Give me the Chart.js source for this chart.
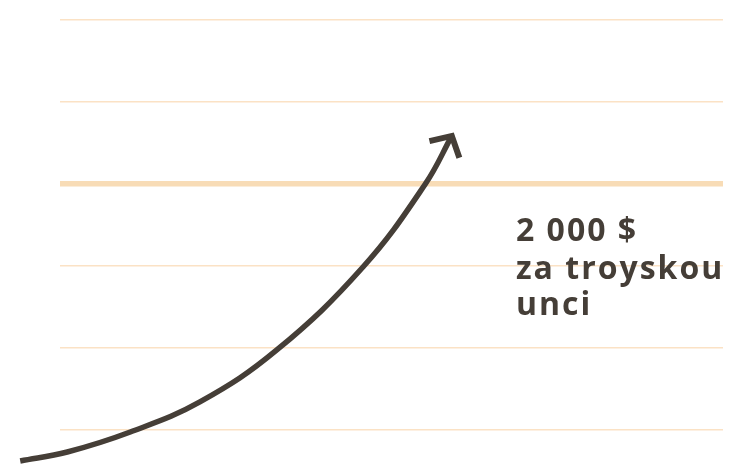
<!DOCTYPE html>
<html>
<head>
<meta charset="utf-8">
<script src="https://cdn.jsdelivr.net/npm/chart.js@4.4.0/dist/chart.umd.min.js"></script>
<style>
  html, body { margin: 0; padding: 0; background: #ffffff; }
  #wrap { width: 730px; height: 465px; position: relative; }
</style>
</head>
<body>
<div id="wrap"><canvas id="c" width="730" height="465"></canvas></div>
<script>
// ---- data ----
const curveX = [-6.0, 1.1, 10.6, 21.1, 32.7, 45.7, 55.1, 59.1];
const curveY = [311, 366, 488, 671, 988, 1494, 2000, 2293];
const gridTicks = [500, 1000, 1500, 2000, 2500, 3000];
const highlightValue = 2000;
const labelLines = ['2 000 $', 'za troyskou', 'unci'];

const INK = '#453e37';
const GRID = '#fbe2c5';
const GRID_HI = '#f8dcb6';

const arrowHead = {
  id: 'arrowHead',
  afterDatasetsDraw(chart) {
    const meta = chart.getDatasetMeta(0);
    const pts = meta.data;
    const last = pts[pts.length - 1];
    let dx = last.x - (last.cp1x ?? pts[pts.length - 2].x);
    let dy = last.y - (last.cp1y ?? pts[pts.length - 2].y);
    const len = Math.hypot(dx, dy) || 1;
    dx /= len; dy /= len;
    const back = Math.atan2(-dy, -dx);
    const half = 48 * Math.PI / 180;
    const arm = 23;
    const ctx = chart.ctx;
    ctx.save();
    ctx.strokeStyle = INK;
    ctx.lineWidth = 6;
    ctx.lineJoin = 'miter';
    ctx.lineCap = 'butt';
    ctx.beginPath();
    ctx.moveTo(last.x + arm * Math.cos(back + half), last.y + arm * Math.sin(back + half));
    ctx.lineTo(last.x, last.y);
    ctx.lineTo(last.x + arm * Math.cos(back - half), last.y + arm * Math.sin(back - half));
    ctx.stroke();
    ctx.restore();
  }
};

const priceLabel = {
  id: 'priceLabel',
  afterDraw(chart) {
    const ctx = chart.ctx;
    ctx.save();
    ctx.fillStyle = INK;
    ctx.font = '700 32px "Open Sans"';
    ctx.letterSpacing = '2px';
    ctx.textBaseline = 'alphabetic';
    ctx.textAlign = 'left';
    const baselines = [241, 279, 315];
    labelLines.forEach((t, i) => ctx.fillText(t, 516, baselines[i]));
    ctx.restore();
  }
};

new Chart(document.getElementById('c'), {
  type: 'line',
  data: {
    datasets: [{
      data: curveX.map((x, i) => ({ x, y: curveY[i] })),
      borderColor: INK,
      borderWidth: 5.5,
      borderCapStyle: 'butt',
      pointRadius: 0,
      tension: 0.4,
      fill: false,
      clip: false
    }]
  },
  options: {
    responsive: false,
    animation: false,
    events: [],
    layout: { padding: { left: 60, right: 7, top: 20, bottom: 0 } },
    plugins: { legend: { display: false }, tooltip: { enabled: false } },
    scales: {
      x: { type: 'linear', min: 0, max: 100, display: false },
      y: {
        type: 'linear',
        min: 286.6,
        max: 3000,
        afterBuildTicks(scale) { scale.ticks = gridTicks.map(v => ({ value: v })); },
        ticks: { display: false },
        border: { display: false },
        grid: {
          drawTicks: false,
          color: c => (c.tick && c.tick.value === highlightValue) ? GRID_HI : GRID,
          lineWidth: c => (c.tick && c.tick.value === highlightValue) ? 5.5 : 1.5
        }
      }
    }
  },
  plugins: [arrowHead, priceLabel]
});
</script>
</body>
</html>
